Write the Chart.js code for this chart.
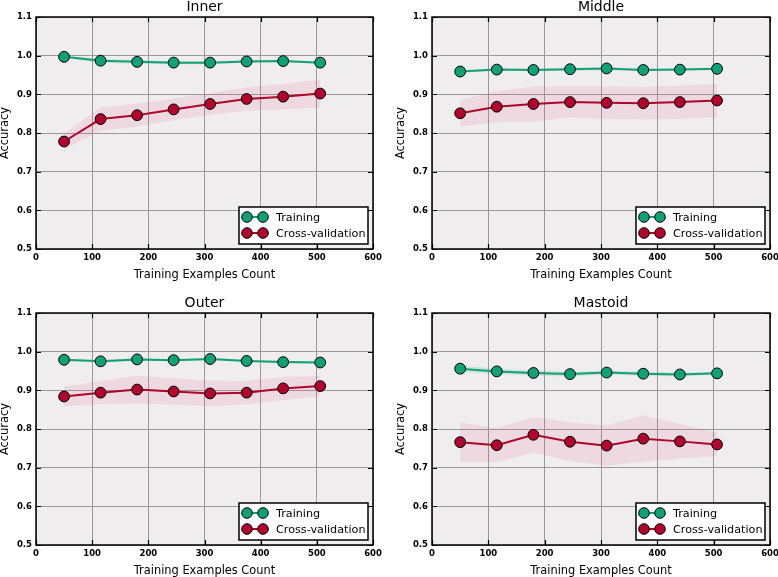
<!DOCTYPE html>
<html>
<head>
<meta charset="utf-8">
<script src="https://cdn.jsdelivr.net/npm/chart.js@4.4.0/dist/chart.umd.min.js"></script>
<style>
  html, body { margin:0; padding:0; background:#fff; }
  #wrap { position:relative; width:778px; height:577px; overflow:hidden; }
  #wrap canvas { position:absolute; }
</style>
</head>
<body>
<div id="wrap">
  <canvas id="c-inner"   width="389" height="288" style="left:0;top:0"></canvas>
  <canvas id="c-middle"  width="389" height="288" style="left:389px;top:0"></canvas>
  <canvas id="c-outer"   width="389" height="289" style="left:0;top:288px"></canvas>
  <canvas id="c-mastoid" width="389" height="289" style="left:389px;top:288px"></canvas>
</div>
<script>
// training set sizes (x)
const trainSizes = [50, 115, 180, 245, 310, 375, 440, 506];
const xTicks = [0, 100, 200, 300, 400, 500, 600];
const yTicks = [0.5, 0.6, 0.7, 0.8, 0.9, 1.0, 1.1];

// Inner
const innerTrain    = [0.997, 0.987, 0.984, 0.982, 0.982, 0.985, 0.986, 0.982];
const innerTrainStd = [0.003, 0.005, 0.005, 0.004, 0.004, 0.003, 0.003, 0.003];
const innerCV       = [0.778, 0.836, 0.846, 0.861, 0.875, 0.888, 0.894, 0.902];
const innerCVStd    = [0.020, 0.030, 0.030, 0.028, 0.028, 0.030, 0.033, 0.036];

// Middle
const middleTrain    = [0.959, 0.964, 0.963, 0.965, 0.967, 0.963, 0.964, 0.966];
const middleTrainStd = [0.003, 0.003, 0.003, 0.004, 0.004, 0.003, 0.003, 0.003];
const middleCV       = [0.851, 0.868, 0.875, 0.880, 0.878, 0.877, 0.880, 0.884];
const middleCVStd    = [0.034, 0.040, 0.045, 0.040, 0.042, 0.042, 0.043, 0.043];

// Outer
const outerTrain    = [0.979, 0.975, 0.980, 0.978, 0.981, 0.976, 0.973, 0.972];
const outerTrainStd = [0.003, 0.003, 0.004, 0.003, 0.003, 0.003, 0.003, 0.003];
const outerCV       = [0.884, 0.894, 0.902, 0.897, 0.892, 0.894, 0.905, 0.911];
const outerCVStd    = [0.025, 0.030, 0.036, 0.034, 0.033, 0.030, 0.030, 0.026];

// Mastoid
const mastoidTrain    = [0.956, 0.949, 0.945, 0.942, 0.946, 0.943, 0.941, 0.944];
const mastoidTrainStd = [0.008, 0.007, 0.007, 0.006, 0.005, 0.005, 0.005, 0.004];
const mastoidCV       = [0.766, 0.758, 0.785, 0.767, 0.757, 0.775, 0.768, 0.760];
const mastoidCVStd    = [0.051, 0.044, 0.046, 0.050, 0.052, 0.060, 0.045, 0.030];

const GREEN = '#12a078';
const RED   = '#b0042f';
const FONT  = 'DejaVu Sans';

const pts = arr => trainSizes.map((x, i) => ({ x, y: arr[i] }));
const band = (m, s, sign) => trainSizes.map((x, i) => ({ x, y: m[i] + sign * s[i] }));

// background, frame, inward ticks, titles, legend
const decor = {
  id: 'decor',
  beforeDraw(chart) {
    const { ctx, chartArea: a } = chart;
    ctx.save();
    ctx.fillStyle = '#efeded';
    ctx.fillRect(a.left, a.top, a.right - a.left, a.bottom - a.top);
    ctx.restore();
  },
  afterDraw(chart, args, o) {
    const { ctx, chartArea: a, scales } = chart;
    ctx.save();
    // frame
    ctx.strokeStyle = '#000';
    ctx.lineWidth = 1.5;
    ctx.strokeRect(a.left, a.top, a.right - a.left, a.bottom - a.top);
    // inward ticks on all four sides
    ctx.lineWidth = 1.2;
    ctx.beginPath();
    xTicks.forEach(v => {
      const px = Math.round(scales.x.getPixelForValue(v)) + 0.5;
      ctx.moveTo(px, a.bottom); ctx.lineTo(px, a.bottom - 5);
      ctx.moveTo(px, a.top);    ctx.lineTo(px, a.top + 5);
    });
    yTicks.forEach(v => {
      const py = Math.round(scales.y.getPixelForValue(v)) + 0.5;
      ctx.moveTo(a.left, py);  ctx.lineTo(a.left + 5, py);
      ctx.moveTo(a.right, py); ctx.lineTo(a.right - 5, py);
    });
    ctx.stroke();

    // titles
    ctx.fillStyle = '#000';
    ctx.textAlign = 'center';
    ctx.font = '14px ' + FONT;
    ctx.textBaseline = 'alphabetic';
    ctx.fillText(o.title, (a.left + a.right) / 2, a.top - 6);
    ctx.font = '11.4px ' + FONT;
    ctx.textBaseline = 'middle';
    ctx.fillText('Training Examples Count', (a.left + a.right) / 2, a.bottom + 26);
    ctx.save();
    ctx.translate(a.left - 31, (a.top + a.bottom) / 2);
    ctx.rotate(-Math.PI / 2);
    ctx.fillText('Accuracy', 0, 0);
    ctx.restore();

    // legend (two-marker style)
    const entries = chart.data.datasets.filter(d => d.inLegend);
    const bw = 129, bh = 37;
    const bx = a.right - 5 - bw, by = a.bottom - 5 - bh;
    ctx.fillStyle = '#fff';
    ctx.fillRect(bx, by, bw, bh);
    ctx.lineWidth = 1.5;
    ctx.strokeStyle = '#000';
    ctx.strokeRect(bx, by, bw, bh);
    ctx.textAlign = 'left';
    ctx.font = '11.2px ' + FONT;
    entries.forEach((d, i) => {
      const cy = by + 10 + i * 16;
      const x1 = bx + 8, x2 = bx + 24;
      ctx.strokeStyle = d.borderColor;
      ctx.lineWidth = 2;
      ctx.beginPath(); ctx.moveTo(x1, cy); ctx.lineTo(x2, cy); ctx.stroke();
      [x1, x2].forEach(x => {
        ctx.beginPath();
        ctx.arc(x, cy, 5.3, 0, Math.PI * 2);
        ctx.fillStyle = d.pointBackgroundColor;
        ctx.fill();
        ctx.lineWidth = 1;
        ctx.strokeStyle = '#000';
        ctx.stroke();
      });
      ctx.fillStyle = '#000';
      ctx.fillText(d.label, bx + 37, cy + 1);
    });
    ctx.restore();
  }
};

function drawPanel(id, title, train, trainStd, cv, cvStd, lay) {
  const canvas = document.getElementById(id);
  new Chart(canvas, {
    type: 'line',
    data: {
      datasets: [
        { label: 'Training', inLegend: true, data: pts(train), borderColor: GREEN, borderWidth: 2,
          pointBackgroundColor: GREEN, pointBorderColor: '#000', pointBorderWidth: 1, pointRadius: 5.4,
          fill: false, order: 0 },
        { label: 'Cross-validation', inLegend: true, data: pts(cv), borderColor: RED, borderWidth: 2,
          pointBackgroundColor: RED, pointBorderColor: '#000', pointBorderWidth: 1, pointRadius: 5.4,
          fill: false, order: 0 },
        { label: 'trainHi', data: band(train, trainStd, 1), borderWidth: 0, pointRadius: 0,
          backgroundColor: 'rgba(18,160,120,0.14)', fill: '+1', order: 1 },
        { label: 'trainLo', data: band(train, trainStd, -1), borderWidth: 0, pointRadius: 0,
          fill: false, order: 1 },
        { label: 'cvHi', data: band(cv, cvStd, 1), borderWidth: 0, pointRadius: 0,
          backgroundColor: 'rgba(225,70,120,0.12)', fill: '+1', order: 1 },
        { label: 'cvLo', data: band(cv, cvStd, -1), borderWidth: 0, pointRadius: 0,
          fill: false, order: 1 },
      ],
    },
    options: {
      responsive: false, animation: false, events: [],
      layout: { padding: { top: lay.top, right: lay.right, left: 0, bottom: 0 } },
      plugins: { legend: { display: false }, tooltip: { enabled: false }, title: { display: false },
                 decor: { title } },
      scales: {
        x: { type: 'linear', min: 0, max: 600,
             afterFit: s => { s.height = lay.xh; s.paddingLeft = 0; s.paddingRight = 0; },
             grid: { color: '#999', lineWidth: 1, drawTicks: false },
             border: { display: false },
             ticks: { stepSize: 100, padding: 4, color: '#000', font: { family: FONT, size: 8.5, weight: 'bold' } } },
        y: { min: 0.5, max: 1.1,
             afterFit: s => { s.width = lay.yw; s.paddingTop = 0; s.paddingBottom = 0; },
             grid: { color: '#999', lineWidth: 1, drawTicks: false },
             border: { display: false },
             ticks: { stepSize: 0.1, padding: 4, color: '#000', font: { family: FONT, size: 8.5, weight: 'bold' },
                      callback: v => v.toFixed(1) } },
      },
    },
    plugins: [decor],
  });
}

drawPanel('c-inner',   'Inner',   innerTrain,   innerTrainStd,   innerCV,   innerCVStd,   { top: 17, right: 16, xh: 39, yw: 36 });
drawPanel('c-middle',  'Middle',  middleTrain,  middleTrainStd,  middleCV,  middleCVStd,  { top: 17, right: 8,  xh: 39, yw: 43 });
drawPanel('c-outer',   'Outer',   outerTrain,   outerTrainStd,   outerCV,   outerCVStd,   { top: 25, right: 16, xh: 32, yw: 36 });
drawPanel('c-mastoid', 'Mastoid', mastoidTrain, mastoidTrainStd, mastoidCV, mastoidCVStd, { top: 25, right: 8,  xh: 32, yw: 43 });
</script>
</body>
</html>
